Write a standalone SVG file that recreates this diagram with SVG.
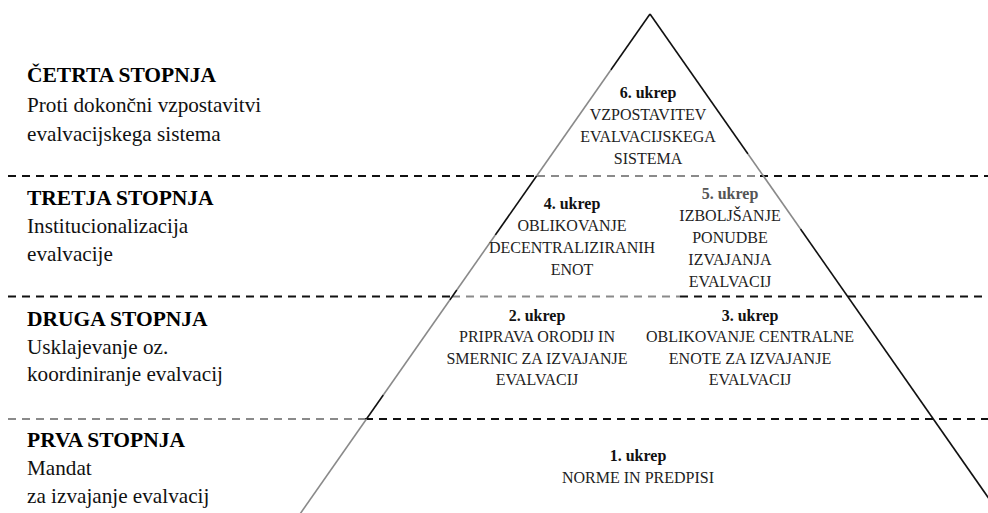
<svg xmlns="http://www.w3.org/2000/svg" width="988" height="513" viewBox="0 0 988 513">
<style>
.h{font-weight:bold;font-size:21.5px;fill:#000}
.t{font-size:21.2px;fill:#111}
.sb{font-weight:bold;font-size:16px;fill:#111;text-anchor:middle}
.s{font-size:16px;fill:#222;text-anchor:middle}
.d{stroke:#111;stroke-width:2;stroke-dasharray:8 6;fill:none}
.dg{stroke:#8a8a8a;stroke-width:2;stroke-dasharray:8 6;fill:none}
.e{stroke:#111;stroke-width:1.6;fill:none}
.eg{stroke:#8a8a8a;stroke-width:1.6;fill:none}
</style>
<rect width="988" height="513" fill="#fff"/>
<g id="connectors">
<path class="d" d="M8 176H537"/>
<path class="dg" d="M537 176H760"/>
<path class="d" d="M760 176H988"/>
<path class="d" d="M8 296.5H452"/>
<path class="dg" d="M452 296.5H680"/>
<path class="d" d="M680 296.5H988"/>
<path class="dg" d="M8 419H365"/>
<path class="d" d="M365 419H988"/>
<path class="e" d="M650 14L610.8 70"/>
<path class="eg" d="M610.8 70L536.6 176"/>
<path class="e" d="M536.6 176L495.3 235"/>
<path class="eg" d="M495.3 235L456.8 290"/>
<path class="e" d="M456.8 290L449.8 300"/>
<path class="eg" d="M449.8 300L383.3 395"/>
<path class="e" d="M383.3 395L366.5 419"/>
<path class="eg" d="M366.5 419L300 514"/>
<path class="e" d="M650 14L748 154"/>
<path class="eg" d="M748 154L800.5 229"/>
<path class="e" d="M800.5 229L999 513"/>
</g>
<g id="stage4" font-family="Liberation Serif">
<text class="h" x="27" y="82">ČETRTA STOPNJA</text>
<text class="t" x="27" y="111.5">Proti dokončni vzpostavitvi</text>
<text class="t" x="27" y="140.5">evalvacijskega sistema</text>
</g>
<g id="stage3" font-family="Liberation Serif">
<text class="h" x="27" y="204.5">TRETJA STOPNJA</text>
<text class="t" x="27" y="232.5">Institucionalizacija</text>
<text class="t" x="27" y="260.5">evalvacije</text>
</g>
<g id="stage2" font-family="Liberation Serif">
<text class="h" x="27" y="326">DRUGA STOPNJA</text>
<text class="t" x="27" y="353.5">Usklajevanje oz.</text>
<text class="t" x="27" y="380.5">koordiniranje evalvacij</text>
</g>
<g id="stage1" font-family="Liberation Serif">
<text class="h" x="27" y="447">PRVA STOPNJA</text>
<text class="t" x="27" y="475">Mandat</text>
<text class="t" x="27" y="503">za izvajanje evalvacij</text>
</g>
<g id="step6" font-family="Liberation Serif">
<text class="sb" x="648" y="98">6. ukrep</text>
<text class="s" x="648" y="120">VZPOSTAVITEV</text>
<text class="s" x="648" y="142">EVALVACIJSKEGA</text>
<text class="s" x="648" y="164">SISTEMA</text>
</g>
<g id="step4" font-family="Liberation Serif">
<text class="sb" x="572" y="209">4. ukrep</text>
<text class="s" x="572" y="231">OBLIKOVANJE</text>
<text class="s" x="572" y="253">DECENTRALIZIRANIH</text>
<text class="s" x="572" y="275">ENOT</text>
</g>
<g id="step5" font-family="Liberation Serif">
<text class="sb" x="730" y="199" style="fill:#555">5. ukrep</text>
<text class="s" x="730" y="221">IZBOLJŠANJE</text>
<text class="s" x="730" y="243">PONUDBE</text>
<text class="s" x="730" y="265">IZVAJANJA</text>
<text class="s" x="730" y="287">EVALVACIJ</text>
</g>
<g id="step2" font-family="Liberation Serif">
<text class="sb" x="537" y="321">2. ukrep</text>
<text class="s" x="537" y="342">PRIPRAVA ORODIJ IN</text>
<text class="s" x="537" y="363.5">SMERNIC ZA IZVAJANJE</text>
<text class="s" x="537" y="385">EVALVACIJ</text>
</g>
<g id="step3" font-family="Liberation Serif">
<text class="sb" x="750" y="321">3. ukrep</text>
<text class="s" x="750" y="342">OBLIKOVANJE CENTRALNE</text>
<text class="s" x="750" y="363.5">ENOTE ZA IZVAJANJE</text>
<text class="s" x="750" y="385">EVALVACIJ</text>
</g>
<g id="step1" font-family="Liberation Serif">
<text class="sb" x="638" y="461">1. ukrep</text>
<text class="s" x="638" y="483">NORME IN PREDPISI</text>
</g>
</svg>
